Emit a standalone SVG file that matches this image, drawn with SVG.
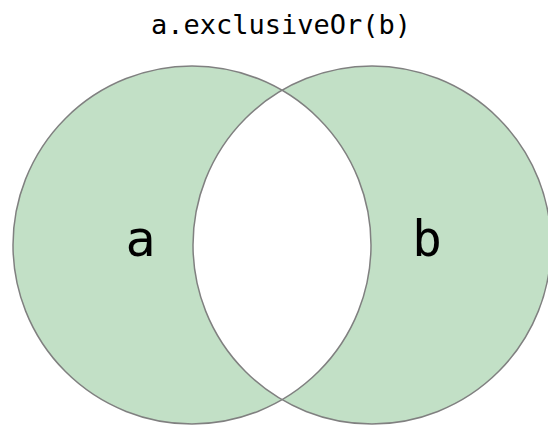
<svg xmlns="http://www.w3.org/2000/svg" width="548" height="425" viewBox="0 0 548 425">
<style>
.t{font-family:"DejaVu Sans Mono","Liberation Mono",monospace;fill:#000;text-anchor:middle}
.c{fill:#c2e0c6;stroke:none}
.o{fill:none;stroke:#808080;stroke-width:1.5}
</style>
<defs>
<clipPath id="clipA"><circle cx="192" cy="245" r="179"/></clipPath>
</defs>
<rect width="548" height="425" fill="#fff"/>
<text class="t" x="281" y="34" font-size="27">a.exclusiveOr(b)</text>
<g id="circle-a">
<circle class="c" cx="192" cy="245" r="179"/>
</g>
<g id="circle-b">
<circle class="c" cx="372" cy="245" r="179"/>
</g>
<g id="intersection">
<circle cx="372" cy="245" r="179" fill="#fff" clip-path="url(#clipA)"/>
</g>
<g id="outlines">
<circle class="o" cx="192" cy="245" r="179"/>
<circle class="o" cx="372" cy="245" r="179"/>
</g>
<g id="label-a"><text class="t" x="140.5" y="256" font-size="50">a</text></g>
<g id="label-b"><text class="t" x="427" y="256" font-size="49">b</text></g>
</svg>
